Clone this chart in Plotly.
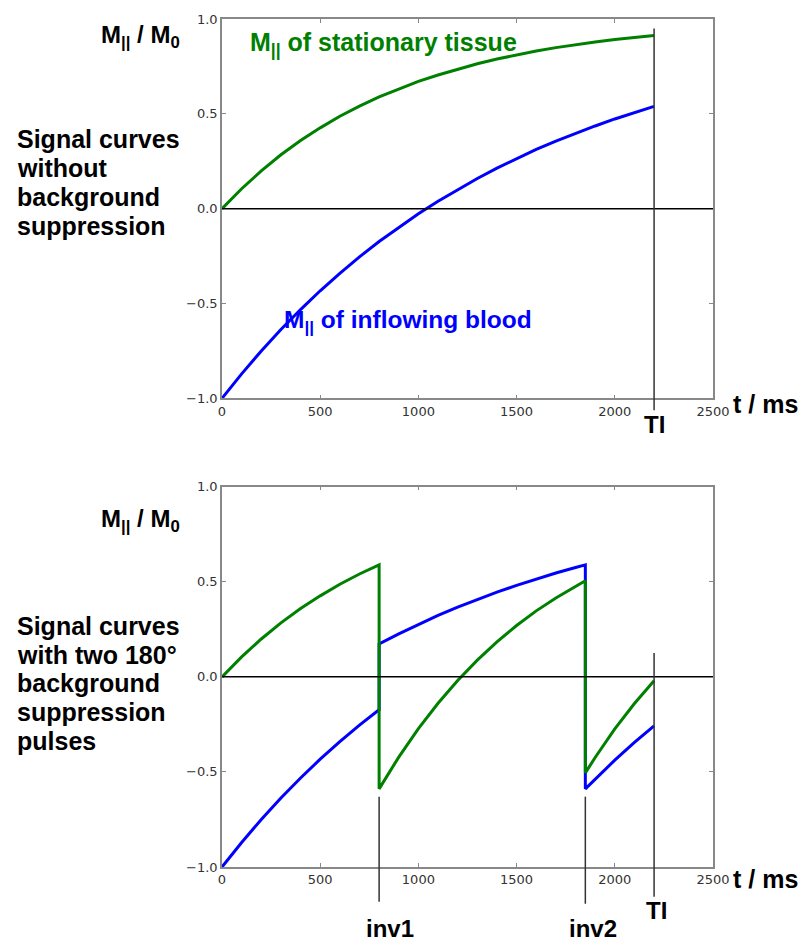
import plotly.graph_objects as go

# ---- data -------------------------------------------------------------
# Without background suppression (t in ms)
t_top = [0, 100, 200, 300, 400, 500, 600, 700, 800, 900, 1000, 1100, 1200,
         1300, 1400, 1500, 1600, 1700, 1800, 1900, 2000, 2100, 2200]
tissue_top = [0.000, 0.105, 0.199, 0.284, 0.359, 0.426, 0.487, 0.541, 0.589,
              0.632, 0.671, 0.705, 0.736, 0.764, 0.789, 0.811, 0.831, 0.849,
              0.865, 0.879, 0.892, 0.903, 0.913]
blood_top = [-1.000, -0.871, -0.750, -0.637, -0.532, -0.433, -0.341, -0.254,
             -0.173, -0.098, -0.027, 0.039, 0.101, 0.159, 0.214, 0.264, 0.312,
             0.356, 0.398, 0.436, 0.473, 0.507, 0.539]

# With two 180° background suppression pulses (inversions at inv1, inv2)
t_bot = [0, 100, 200, 300, 400, 500, 600, 700, 800,
         800, 900, 1000, 1100, 1200, 1300, 1400, 1500, 1600, 1700, 1800, 1850,
         1850, 1900, 2000, 2100, 2200]
tissue_bot = [0.000, 0.105, 0.199, 0.284, 0.359, 0.426, 0.487, 0.541, 0.589,
              -0.589, -0.422, -0.272, -0.139, -0.019, 0.088, 0.184, 0.270,
              0.347, 0.415, 0.477, 0.505,
              -0.505, -0.424, -0.274, -0.140, -0.020]
blood_bot = [-1.000, -0.871, -0.750, -0.637, -0.532, -0.433, -0.341, -0.254,
             -0.173,
             0.173, 0.226, 0.276, 0.323, 0.367, 0.407, 0.446, 0.481, 0.515,
             0.546, 0.575, 0.589,
             -0.589, -0.537, -0.438, -0.345, -0.258]

TI = 2200
INV1 = 800
INV2 = 1850

x_ticks = [0, 500, 1000, 1500, 2000, 2500]
y_ticks = [-1.0, -0.5, 0.0, 0.5, 1.0]
x_range = [0, 2500]
y_range = [-1.0, 1.0]

GREEN = "#008000"
BLUE = "#0000ff"
LINE_DARK = "#333333"

# ---- page geometry ------------------------------------------------------
W, H = 805, 944
ML, MR, MT, MB = 222, 92, 13, 77
PW = W - ML - MR
PH = H - MT - MB


def px(x):
    """pixel x -> paper x"""
    return (x - ML) / PW


def py(y):
    """pixel y -> paper y"""
    return (H - MB - y) / PH


top_dom = [py(395), 1.0]
bot_dom = [0.0, py(484)]


def xfrac(v):
    return (v - x_range[0]) / (x_range[1] - x_range[0])


def yfrac(v):
    return (v - y_range[0]) / (y_range[1] - y_range[0])


fig = go.Figure()

# top panel
fig.add_trace(go.Scatter(x=t_top, y=blood_top, mode="lines",
                         line=dict(color=BLUE, width=3), xaxis="x", yaxis="y"))
fig.add_trace(go.Scatter(x=t_top, y=tissue_top, mode="lines",
                         line=dict(color=GREEN, width=3), xaxis="x", yaxis="y"))
# bottom panel
fig.add_trace(go.Scatter(x=t_bot, y=blood_bot, mode="lines",
                         line=dict(color=BLUE, width=3), xaxis="x2", yaxis="y2"))
fig.add_trace(go.Scatter(x=t_bot, y=tissue_bot, mode="lines",
                         line=dict(color=GREEN, width=3), xaxis="x2", yaxis="y2"))

axis_common = dict(
    showgrid=False, zeroline=False, showline=True, linecolor="#888888",
    linewidth=1.5, mirror="ticks", ticks="inside", ticklen=4, tickwidth=1,
    tickcolor="#888888",
    tickfont=dict(family="DejaVu Sans", size=13, color="#333333"),
)

fig.update_layout(
    width=W, height=H,
    margin=dict(l=ML, r=MR, t=MT, b=MB),
    paper_bgcolor="white", plot_bgcolor="white",
    showlegend=False,
    xaxis=dict(domain=[0, 1], anchor="y", range=x_range, tickvals=x_ticks,
               ticktext=[str(v) for v in x_ticks], **axis_common),
    yaxis=dict(domain=top_dom, anchor="x", range=y_range, tickvals=y_ticks,
               ticktext=[f"{v:.1f}".replace("-", "\u2212") for v in y_ticks],
               **axis_common),
    xaxis2=dict(domain=[0, 1], anchor="y2", range=x_range, tickvals=x_ticks,
                ticktext=[str(v) for v in x_ticks], **axis_common),
    yaxis2=dict(domain=bot_dom, anchor="x2", range=y_range, tickvals=y_ticks,
                ticktext=[f"{v:.1f}".replace("-", "\u2212") for v in y_ticks],
                **axis_common),
)

shapes = []
# zero lines
for xr, yr in (("x", "y"), ("x2", "y2")):
    shapes.append(dict(type="line", xref=xr, yref=yr, x0=x_range[0],
                       x1=x_range[1], y0=0, y1=0,
                       line=dict(color="black", width=1.5)))

# TI marker, top panel
shapes.append(dict(type="line", xref="x domain", yref="y domain",
                   x0=xfrac(TI), x1=xfrac(TI), y0=yfrac(0.95), y1=-12 / 382,
                   line=dict(color=LINE_DARK, width=1.5), layer="above"))
# inversion markers and TI, bottom panel
for xv, ytop, ybot in ((INV1, -0.63, -35 / 383), (INV2, -0.63, -37 / 383),
                       (TI, 0.125, -30 / 383)):
    shapes.append(dict(type="line", xref="x2 domain", yref="y2 domain",
                       x0=xfrac(xv), x1=xfrac(xv), y0=yfrac(ytop), y1=ybot,
                       line=dict(color=LINE_DARK, width=1.5), layer="above"))
fig.update_layout(shapes=shapes)

BOLD = "Liberation Sans"
ann = []


def label(text, x, y, size=24, color="black", xanchor="center"):
    ann.append(dict(text=f"<b>{text}</b>", xref="paper", yref="paper",
                    x=px(x), y=py(y), xanchor=xanchor, yanchor="middle",
                    showarrow=False,
                    font=dict(family=BOLD, size=size, color=color)))


# axis titles
label("M<sub>||</sub> / M<sub>0</sub>", 140, 31)
label("M<sub>||</sub> / M<sub>0</sub>", 140, 518)
label("t / ms", 765, 401, size=25)
label("t / ms", 765, 879, size=25)

# curve labels
label("M<sub>||</sub> of stationary tissue", 248, 38, size=25, color=GREEN,
      xanchor="left")
label("M<sub>||</sub> of inflowing blood", 282, 318, size=24.5, color=BLUE,
      xanchor="left")

# event labels
label("TI", 654, 421)
label("TI", 656, 911)
label("inv1", 390, 929)
label("inv2", 593, 929)

# panel descriptions
for i, line in enumerate(["Signal curves", "without", "background",
                          "suppression"]):
    label(line, 15, 134 + 29 * i, size=25, xanchor="left")
for i, line in enumerate(["Signal curves", "with two 180°", "background",
                          "suppression", "pulses"]):
    label(line, 15, 624 + 29 * i, size=25, xanchor="left")

fig.update_layout(annotations=ann)

fig.write_html("out.html")
